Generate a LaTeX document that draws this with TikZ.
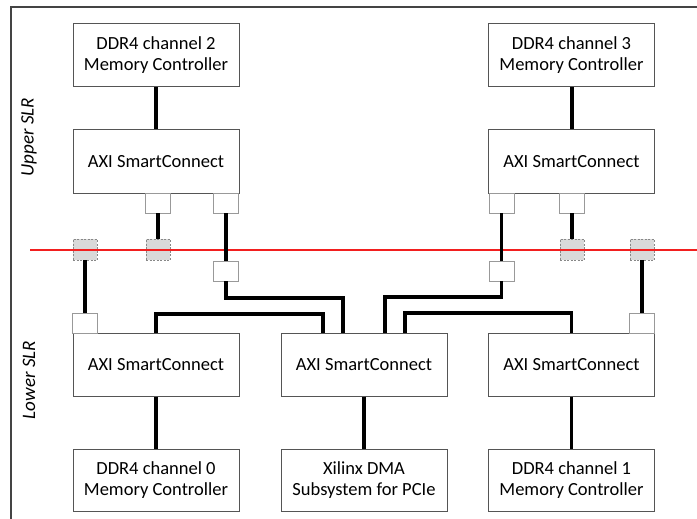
\documentclass[tikz,border=0pt]{standalone}
\usepackage{fontspec}
\setmainfont{Carlito}
\usetikzlibrary{calc}
\definecolor{boxline}{HTML}{555555}
\definecolor{portline}{HTML}{999999}
\definecolor{slrfill}{HTML}{D9D9D9}
\definecolor{slrline}{HTML}{888888}
\definecolor{frameline}{HTML}{444444}
\definecolor{slrred}{rgb}{0.95,0.12,0.12}
\tikzset{
  block/.style={draw=boxline, line width=1pt, fill=white, minimum width=166pt,
    minimum height=63pt, align=center, inner sep=0pt,
    font=\fontsize{18.5}{21}\selectfont},
  port/.style={draw=portline, line width=0.9pt, fill=white, minimum width=25pt,
    minimum height=20pt, inner sep=0pt},
  crossing/.style={draw=slrline, dashed, dash pattern=on 2pt off 1.5pt, line width=0.9pt,
    fill=slrfill, minimum width=24pt, minimum height=21pt, inner sep=0pt},
  bus/.style={line width=3.5pt, draw=black},
  boundary/.style={draw=slrred, line width=2pt},
  slrlabel/.style={rotate=90, font=\fontsize{19}{22}\selectfont\itshape},
}
\begin{document}
\begin{tikzpicture}[x=1pt, y=-1pt]
\useasboundingbox (0,0) rectangle (697,519);
\fill[white] (0,0) rectangle (697,519);

% outer frame (open to the right and bottom)
\draw[draw=frameline, line width=1.3pt] (11,519) -- (11,7) -- (697,7);

% region labels
\node[slrlabel] (upper) at (29,137) {Upper SLR};
\node[slrlabel] (lower) at (29,380) {Lower SLR};

% upper SLR blocks
\node[block] (ddr2) at (156,55.5) {DDR4 channel 2\\Memory Controller};
\node[block] (ddr3) at (571.5,55.5) {DDR4 channel 3\\Memory Controller};
\node[block] (scUL) at (156,161.5) {AXI SmartConnect};
\node[block] (scUR) at (571.5,161.5) {AXI SmartConnect};

% lower SLR blocks
\node[block] (scL) at (156,364.5) {AXI SmartConnect};
\node[block] (scM) at (364,364.5) {AXI SmartConnect};
\node[block] (scR) at (571.5,364.5) {AXI SmartConnect};
\node[block, minimum height=62pt] (ddr0) at (156,480) {DDR4 channel 0\\Memory Controller};
\node[block, minimum height=62pt] (dma) at (364,480) {Xilinx DMA\\Subsystem for PCIe};
\node[block, minimum height=62pt] (ddr1) at (571.5,480) {DDR4 channel 1\\Memory Controller};

% ports on the SmartConnects
\node[port] (pUL1) at (158,203) {};
\node[port] (pUL2) at (226,203) {};
\node[port] (pUR1) at (501.5,203) {};
\node[port] (pUR2) at (572,203) {};
\node[port] (pML) at (226,271) {};
\node[port] (pMR) at (501.5,271) {};
\node[port] (pL) at (85,323) {};
\node[port] (pR) at (642,323) {};

% SLR crossing registers
\node[crossing] (x1) at (85,249.5) {};
\node[crossing] (x2) at (158,249.5) {};
\node[crossing] (x3) at (572,249.5) {};
\node[crossing] (x4) at (642,249.5) {};

% SLR boundary
\coordinate (bL) at (30,249.5);
\coordinate (bR) at (697,249.5);
\draw[boundary] (bL) -- (bR);

% routing corners
\coordinate (jML) at (343,298);
\coordinate (jMR) at (385,297);
\coordinate (jL) at (323,314);
\coordinate (jR) at (405,313);

% connections
\draw[bus] (ddr2) -- (scUL);
\draw[bus] (ddr3.south -| pUR2) -- (scUR.north -| pUR2);
\draw[bus] (pUL1) -- (x2);
\draw[bus] (pUR2) -- (x3);
\draw[bus] (pUL2) -- (pML);
\draw[bus] (pUR1) -- (pMR);
\draw[bus] (x1) -- (pL);
\draw[bus] (x4) -- (pR);
\draw[bus] (pML.south) |- (jML) -- (jML |- scM.north);
\draw[bus] (pMR.south) |- (jMR) -- (jMR |- scM.north);
\draw[bus] (scL.north) |- (jL) -- (jL |- scM.north);
\draw[bus] (jR |- scM.north) -- (jR) -| (scR.north);
\draw[bus] (scL) -- (ddr0);
\draw[bus] (scM) -- (dma);
\draw[bus] (scR) -- (ddr1);
\end{tikzpicture}
\end{document}
